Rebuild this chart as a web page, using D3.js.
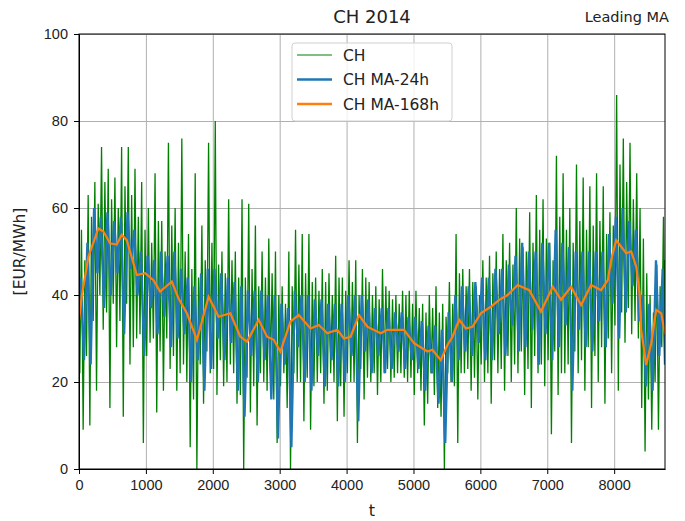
<!DOCTYPE html>
<html>
<head>
  <meta charset="utf-8">
  <style type="text/css">
    body { margin: 0; background: #fff; }
    svg { font-family: "DejaVu Sans", sans-serif; }
    .axis text { font-size: 14.5px; fill: #222; }
    .axis path, .axis line { stroke: #000; stroke-width: 1px; }
    .grid line { stroke: #b0b0b0; stroke-width: 1px; }
    .grid path { display: none; }
    .grid text { display: none; }
  </style>
</head>
<body>
  <script src="https://d3js.org/d3.v7.min.js"></script>
  <script>
  // hourly price CH 2014, in 100 h bins
  var binHours = 100;
  // green: spike high / spike low in each bin
  var chHi = [55, 63, 66, 74, 69, 67, 74, 74, 69, 66,
              60, 68, 57, 75, 60, 76, 54, 68, 56, 75,
              80, 50, 62, 50, 62, 61, 56, 50, 53, 50,
              42, 50, 55, 54, 54, 44, 46, 45, 49, 44,
              48, 48, 46, 43, 42, 46, 41, 40, 41, 41,
              41, 38, 40, 42, 38, 43, 54, 46, 46, 42,
              48, 49, 50, 54, 52, 60, 51, 59, 63, 62,
              52, 72, 68, 60, 70, 67, 65, 68, 65, 59,
              86, 76, 75, 68, 53, 40, 47, 58];
  var chLo = [9, 10, 18, 32, 14, 28, 12, 24, 30, 6,
              29, 13, 18, 23, 18, 24, 5, 0, 15, 22,
              17, 19, 24, 15, 0, 13, 10, 20, 22, 6,
              22, 0, 20, 11, 9, 20, 15, 22, 11, 12,
              20, 6, 16, 20, 17, 22, 20, 22, 21, 21,
              22, 10, 22, 14, 0, 20, 6, 22, 18, 16,
              20, 15, 22, 18, 20, 22, 17, 14, 22, 19,
              8, 17, 22, 6, 22, 18, 14, 20, 15, 22,
              18, 29, 31, 30, 4, 9, 9, 24];
  // green: second (ordinary) daily high / low in each bin
  var chHi2 = [48, 58, 61, 66, 62, 60, 65, 63, 58, 55,
               52, 57, 50, 56, 52, 50, 46, 44, 48, 52,
               47, 45, 48, 44, 44, 46, 42, 44, 45, 40,
               38, 42, 47, 45, 43, 41, 43, 40, 44, 41,
               43, 40, 44, 40, 39, 42, 39, 38, 40, 38,
               37, 36, 37, 36, 35, 38, 45, 42, 43, 40,
               44, 45, 46, 48, 47, 53, 50, 52, 55, 53,
               48, 58, 55, 52, 57, 55, 56, 57, 54, 56,
               70, 66, 62, 60, 45, 36, 42, 48];
  var chLo2 = [22, 26, 34, 40, 36, 38, 34, 38, 28, 31,
               26, 30, 27, 30, 26, 22, 20, 16, 24, 27,
               23, 25, 20, 22, 17, 21, 19, 22, 18, 16,
               19, 14, 22, 20, 21, 19, 22, 18, 20, 19,
               22, 20, 23, 21, 22, 20, 23, 21, 22, 20,
               17, 18, 15, 17, 12, 22, 19, 22, 23, 21,
               24, 22, 25, 23, 26, 24, 27, 23, 26, 24,
               25, 27, 22, 24, 27, 25, 28, 26, 28, 30,
               33, 36, 37, 34, 14, 16, 20, 28];

  // blue: 24 h moving average, high / low in each bin
  var ma24Hi = [44, 52, 60, 58, 59, 57, 58, 59, 55, 50,
                49, 48, 50, 49, 50, 46, 44, 42, 45, 46,
                46, 45, 44, 43, 42, 41, 41, 41, 40, 40,
                38, 37, 41, 40, 40, 39, 39, 38, 38, 38,
                40, 40, 40, 39, 37, 37, 37, 36, 36, 35,
                35, 34, 33, 33, 32, 36, 40, 42, 42, 43,
                44, 44, 46, 46, 47, 49, 52, 50, 50, 52,
                52, 55, 52, 51, 50, 50, 50, 50, 50, 54,
                58, 60, 57, 55, 40, 38, 48, 46];
  var ma24Lo = [25, 24, 45, 37, 40, 45, 31, 46, 40, 26,
                37, 31, 35, 28, 30, 31, 20, 25, 18, 23,
                30, 25, 29, 18, 12, 26, 20, 25, 16, 7,
                24, 5, 28, 20, 18, 26, 19, 25, 19, 20,
                26, 11, 27, 22, 26, 22, 23, 27, 23, 25,
                23, 18, 22, 15, 6, 20, 25, 27, 26, 29,
                25, 25, 31, 26, 33, 27, 28, 32, 24, 31,
                25, 28, 33, 18, 32, 28, 27, 34, 28, 38,
                30, 36, 42, 34, 19, 18, 26, 24];

  // orange: 168 h moving average, read at these hours
  var ma168T = [0, 40, 140, 290, 365, 464, 564, 639, 714, 864,
                989, 1113, 1213, 1388, 1488, 1613, 1763, 1937, 2087, 2262,
                2412, 2512, 2686, 2811, 2911, 3011, 3161, 3286, 3461, 3586,
                3711, 3861, 3961, 4060, 4185, 4310, 4509, 4610, 4859, 5009,
                5209, 5284, 5408, 5508, 5583, 5683, 5783, 5883, 6007, 6157,
                6282, 6407, 6557, 6731, 6906, 7082, 7206, 7356, 7506, 7655,
                7805, 7905, 7955, 8030, 8105, 8180, 8255, 8330, 8380, 8404,
                8479, 8554, 8629, 8704, 8760];
  var ma168V = [34, 39.6, 48.8, 55.3, 54.6, 51.9, 51.6, 53.8, 52.6, 44.6,
                45, 43.4, 40.8, 43.1, 39.2, 35.8, 29.7, 39.6, 35, 35.8,
                30.4, 29.3, 34.3, 30.4, 29.7, 27, 33.9, 35.4, 32.3, 33.1,
                31.2, 32, 30, 30.4, 35.4, 32.7, 31.2, 32, 32, 28.9,
                27, 27.4, 25, 28.5, 30.4, 34.3, 32.3, 32.7, 35.8, 37.3,
                38.9, 40, 42.3, 41.1, 36.2, 41.9, 38.9, 41.9, 37.7, 42.3,
                41.1, 43.4, 48, 52.6, 51.1, 49.6, 50, 46.5, 40.4, 32,
                23.9, 28.9, 36.6, 35.8, 31];

  var xTicks = [0, 1000, 2000, 3000, 4000, 5000, 6000, 7000, 8000];
  var yTicks = [0, 20, 40, 60, 80, 100];
  var hours = 8760;

  var margin = {top: 34, right: 20, bottom: 52, left: 79};
  var width = 665 - margin.left;
  var height = 469 - margin.top;

  var x = d3.scaleLinear().domain([0, hours]).range([0, width]);
  var y = d3.scaleLinear().domain([0, 100]).range([height, 0]);

  var svg = d3.select("body").append("svg")
    .attr("width", 685)
    .attr("height", 521);

  var g = svg.append("g")
    .attr("transform", "translate(" + margin.left + "," + margin.top + ")");

  g.append("defs").append("clipPath").attr("id", "plot")
    .append("rect").attr("width", width).attr("height", height);

  // grid
  g.append("g").attr("class", "grid")
    .attr("transform", "translate(0," + height + ")")
    .call(d3.axisBottom(x).tickValues(xTicks).tickSize(-height));
  g.append("g").attr("class", "grid")
    .call(d3.axisLeft(y).tickValues(yTicks).tickSize(-width));

  // green: low, spike high, spike low, high inside each bin
  var chPts = [];
  chHi.forEach(function(v, i) {
    var t0 = i * binHours;
    chPts.push([t0 + 12, chLo2[i]]);
    chPts.push([t0 + 37, v]);
    chPts.push([t0 + 62, chLo[i]]);
    chPts.push([t0 + 87, chHi2[i]]);
  });

  var ma24Pts = [];
  ma24Hi.forEach(function(v, i) {
    ma24Pts.push([i * binHours + 25, v]);
    ma24Pts.push([i * binHours + 75, ma24Lo[i]]);
  });

  var ma168Pts = ma168T.map(function(t, i) { return [t, ma168V[i]]; });

  var line = d3.line()
    .x(function(p) { return x(Math.min(p[0], hours)); })
    .y(function(p) { return y(p[1]); });

  var plot = g.append("g").attr("clip-path", "url(#plot)");

  plot.append("path").datum(chPts)
    .attr("d", line).attr("fill", "none")
    .attr("stroke", "#008000").attr("stroke-width", 1.3);

  plot.append("path").datum(ma24Pts)
    .attr("d", line).attr("fill", "none")
    .attr("stroke", "#1f77b4").attr("stroke-width", 2.3);

  plot.append("path").datum(ma168Pts)
    .attr("d", line).attr("fill", "none")
    .attr("stroke", "#ff7f0e").attr("stroke-width", 2.2);

  // axes
  g.append("g").attr("class", "axis")
    .attr("transform", "translate(0," + height + ")")
    .call(d3.axisBottom(x).tickValues(xTicks).tickFormat(d3.format("d"))
      .tickSize(5).tickPadding(6).tickSizeOuter(0));
  g.append("g").attr("class", "axis")
    .call(d3.axisLeft(y).tickValues(yTicks).tickFormat(d3.format("d"))
      .tickSize(5).tickPadding(6).tickSizeOuter(0));

  // frame
  g.append("rect").attr("width", width).attr("height", height)
    .attr("fill", "none").attr("stroke", "#000").attr("stroke-width", 1);

  // titles
  svg.append("text").attr("x", margin.left + width / 2).attr("y", 23)
    .attr("text-anchor", "middle").style("font-size", "18px").attr("fill", "#222")
    .text("CH 2014");
  svg.append("text").attr("x", 669).attr("y", 22)
    .attr("text-anchor", "end").style("font-size", "14.5px").attr("fill", "#222")
    .text("Leading MA");
  svg.append("text").attr("x", margin.left + width / 2).attr("y", 516)
    .attr("text-anchor", "middle").style("font-size", "16px").attr("fill", "#222")
    .text("t");
  svg.append("text")
    .attr("transform", "translate(25," + (margin.top + height / 2) + ") rotate(-90)")
    .attr("text-anchor", "middle").style("font-size", "15.5px").attr("fill", "#222")
    .text("[EUR/MWh]");

  // legend
  var legendItems = [
    {name: "CH", color: "#008000", w: 1.1},
    {name: "CH MA-24h", color: "#1f77b4", w: 2.5},
    {name: "CH MA-168h", color: "#ff7f0e", w: 2.5}
  ];
  var lg = svg.append("g").attr("transform", "translate(292,43)");
  lg.append("rect").attr("width", 160).attr("height", 78).attr("rx", 3)
    .attr("fill", "#fff").attr("fill-opacity", 0.8)
    .attr("stroke", "#d0d0d0").attr("stroke-width", 1);
  legendItems.forEach(function(it, i) {
    var row = lg.append("g").attr("transform", "translate(0," + (12 + i * 24.5) + ")");
    row.append("line").attr("x1", 5).attr("x2", 40).attr("y1", 0).attr("y2", 0)
      .attr("stroke", it.color).attr("stroke-width", it.w);
    row.append("text").attr("x", 51).attr("y", 5.5)
      .style("font-size", "15.5px").attr("fill", "#222").text(it.name);
  });
  </script>
</body>
</html>
